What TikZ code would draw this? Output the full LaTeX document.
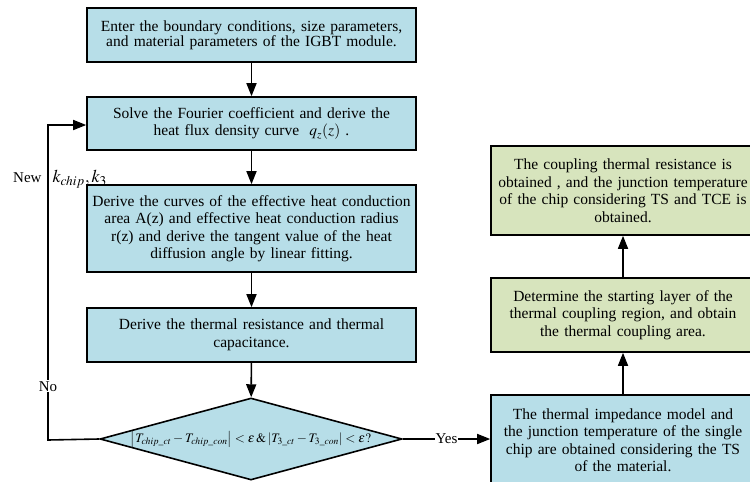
\documentclass[tikz,border=0pt]{standalone}
\usepackage{amsmath}
\usepackage{mathptmx}
\usepackage{fontspec}
\setmainfont{Liberation Serif}
\definecolor{PaleBlue}{HTML}{B7DEE8}
\definecolor{PaleGreen}{HTML}{D7E4BD}
\usetikzlibrary{arrows.meta,positioning,shapes.geometric}
\tikzset{
  flow/.style={draw=black,line width=1.6pt,minimum height=54pt,
    text width=327pt,align=center,inner sep=1pt,
    font=\fontsize{15.5}{17.5}\selectfont},
  flowblue/.style={flow,fill=PaleBlue},
  flowgreen/.style={flow,fill=PaleGreen},
  arrow/.style={-{Triangle[length=13pt,width=10pt]},line width=1.6pt},
  tag/.style={font=\fontsize{15}{17}\selectfont,fill=white,inner sep=1pt}
}
\begin{document}
\begin{tikzpicture}[x=1pt,y=-1pt]
  \useasboundingbox (0,0) rectangle (750,482);
  \clip (0,0) rectangle (750,482);
  % left column
  \node[flowblue,font=\fontsize{15.5}{15}\selectfont] (s1) at (251.5,35)
    {Enter the boundary conditions, size parameters,\\
     and material parameters of the IGBT module.};
  \node[flowblue,minimum height=53pt] (s2) at (251.5,123.5)
    {Solve the Fourier coefficient and derive the\\
     heat flux density curve \ $q_z(z)$ .};
  \node[flowblue,minimum height=87pt] (s3) at (251.5,228.5)
    {Derive the curves of the effective heat conduction\\
     area A(z) and effective heat conduction radius\\
     r(z) and derive the tangent value of the heat\\
     diffusion angle by linear fitting.};
  \node[flowblue] (s4) at (251.5,335)
    {Derive the thermal resistance and thermal\\ capacitance.};
  \node[draw=black,line width=1.6pt,fill=PaleBlue,diamond,aspect=3.68,
    inner sep=0pt,minimum width=302pt,minimum height=82pt,
    font=\fontsize{13}{15}\selectfont] (d) at (251,439)
    {$\left|T_{chip\_ct}-T_{chip\_con}\right|<\varepsilon\,\&
      \left|T_{3\_ct}-T_{3\_con}\right|<\varepsilon?$};
  % right column
  \node[flowblue,text width=262pt,minimum width=264pt,minimum height=90pt] (r1) at (623,440)
    {The thermal impedance model and\\
     the junction temperature of the single\\
     chip are obtained considering the TS\\
     of the material.};
  \node[flowgreen,text width=262pt,minimum width=264pt,minimum height=74pt] (r2) at (623,315)
    {Determine the starting layer of the\\
     thermal coupling region, and obtain\\
     the thermal coupling area.};
  \node[flowgreen,text width=262pt,minimum width=264pt,minimum height=89pt] (r3) at (623,190.5)
    {The coupling thermal resistance is\\
     obtained , and the junction temperature\\
     of the chip considering TS and TCE is\\
     obtained.};
  \draw[arrow] (s1) -- (s2);
  \draw[arrow] (s2) -- (s3);
  \draw[arrow] (s3) -- (s4);
  \draw[arrow] (s4) -- (d);
  \draw[arrow] (d.east) -- node[tag] {Yes} (r1.west |- d.east);
  \draw[arrow] (r1) -- (r2);
  \draw[arrow] (r2) -- (r3);
  \coordinate (c1) at (48,440);
  \coordinate (c2) at (48,125);
  \draw[arrow] (d.west) -- (c1) -- node[tag,pos=0.17] {No} (c2) -- (s2.west |- c2);
  \node[tag,fill=none,anchor=west,inner sep=0pt] (nk) at (13,179)
    {New\hspace{11pt}{\fontsize{18}{18}\selectfont$k_{chip},k_3$}};
\end{tikzpicture}
\end{document}
